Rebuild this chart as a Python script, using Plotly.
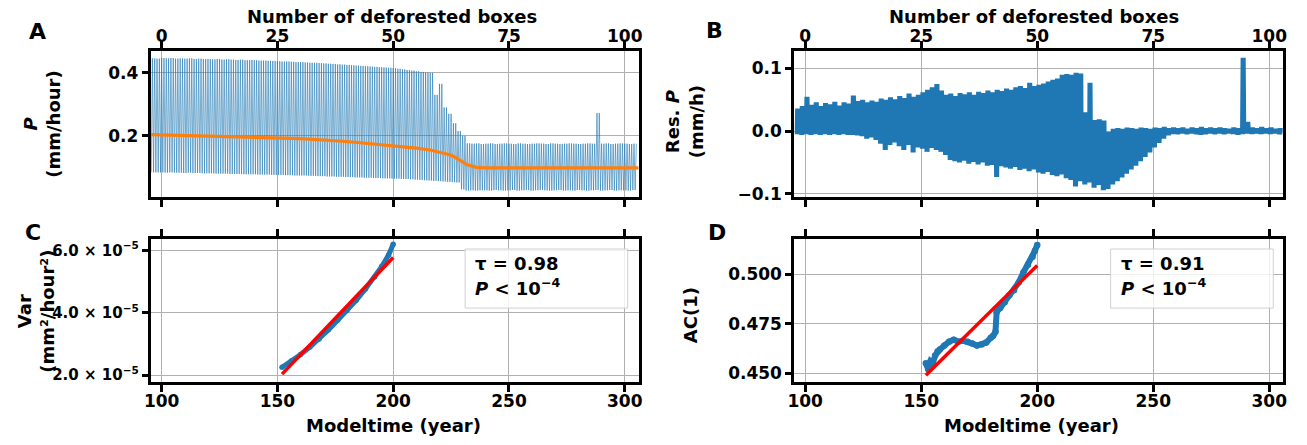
import plotly.graph_objects as go

# ---------------- data ----------------
# Panel A / B: x in "number of deforested boxes" (1 box = 2 model years)
boxes = list(range(-2, 103))

a_upper = [0.446, 0.445,
           0.447, 0.446, 0.447, 0.445, 0.446, 0.445, 0.446, 0.444, 0.445, 0.444,
           0.444, 0.443, 0.444, 0.442, 0.443, 0.442, 0.441, 0.442, 0.440, 0.441,
           0.440, 0.439, 0.439, 0.438, 0.438, 0.437, 0.436, 0.436, 0.435, 0.434,
           0.434, 0.433, 0.432, 0.432, 0.431, 0.430, 0.429, 0.428, 0.427, 0.426,
           0.425, 0.424, 0.423, 0.422, 0.421, 0.420, 0.419, 0.418, 0.417, 0.416,
           0.415, 0.413, 0.411, 0.409, 0.407, 0.405, 0.403, 0.401, 0.400, 0.330,
           0.365, 0.290, 0.270, 0.240, 0.215, 0.200, 0.176, 0.175, 0.176, 0.174,
           0.175, 0.176, 0.174, 0.175, 0.176, 0.175, 0.174, 0.176, 0.175, 0.174,
           0.175, 0.176, 0.175, 0.174, 0.176, 0.175, 0.174, 0.175, 0.176, 0.175,
           0.174, 0.175, 0.176, 0.175, 0.272, 0.175, 0.176, 0.174, 0.175, 0.176,
           0.175, 0.174, 0.175]

a_lower = [0.084, 0.084,
           0.084, 0.083, 0.084, 0.083, 0.083, 0.082, 0.083, 0.082, 0.082, 0.081,
           0.081, 0.081, 0.080, 0.080, 0.080, 0.079, 0.079, 0.079, 0.078, 0.078,
           0.078, 0.077, 0.077, 0.077, 0.076, 0.076, 0.076, 0.075, 0.075, 0.074,
           0.074, 0.074, 0.073, 0.073, 0.072, 0.072, 0.071, 0.071, 0.070, 0.070,
           0.069, 0.069, 0.068, 0.068, 0.067, 0.067, 0.066, 0.066, 0.065, 0.065,
           0.064, 0.064, 0.063, 0.063, 0.062, 0.061, 0.060, 0.059, 0.058, 0.057,
           0.056, 0.055, 0.054, 0.053, 0.052, 0.030, 0.026, 0.027, 0.026, 0.027,
           0.027, 0.026, 0.028, 0.027, 0.026, 0.027, 0.028, 0.026, 0.027, 0.028,
           0.026, 0.027, 0.028, 0.027, 0.026, 0.027, 0.028, 0.026, 0.027, 0.026,
           0.028, 0.027, 0.026, 0.027, 0.028, 0.026, 0.027, 0.028, 0.026, 0.027,
           0.027, 0.026, 0.028]

mean_boxes = [-2.35, 0, 10, 20, 25, 30, 40, 50, 55, 58, 60, 62, 63, 64, 65, 66, 67, 68, 70, 80, 90, 103]
mean_vals = [0.204, 0.203, 0.200, 0.196, 0.194, 0.191, 0.182, 0.169, 0.161, 0.155, 0.149,
             0.141, 0.135, 0.127, 0.117, 0.108, 0.103, 0.100, 0.0985, 0.098, 0.098, 0.098]

b_upper = [0.036, 0.040,
           0.055, 0.042, 0.046, 0.040, 0.045, 0.043, 0.047, 0.041, 0.046, 0.044,
           0.057, 0.048, 0.050, 0.046, 0.049, 0.047, 0.052, 0.050, 0.054, 0.051,
           0.056, 0.053, 0.060, 0.055, 0.058, 0.062, 0.066, 0.070, 0.075, 0.065,
           0.058, 0.060, 0.056, 0.061, 0.059, 0.062, 0.058, 0.063, 0.061, 0.065,
           0.062, 0.066, 0.064, 0.068, 0.066, 0.070, 0.072, 0.069, 0.077, 0.072,
           0.074, 0.076, 0.079, 0.082, 0.084, 0.090, 0.091, 0.090, 0.093, 0.092,
           0.030, 0.077, 0.018, 0.019, 0.017, -0.001, 0.004, 0.005, 0.004, 0.006,
           0.005, 0.004, 0.006, 0.005, 0.004, 0.006, 0.005, 0.007, 0.005, 0.006,
           0.005, 0.006, 0.004, 0.006, 0.005, 0.007, 0.005, 0.006, 0.005, 0.006,
           0.005, 0.004, 0.006, 0.005, 0.117, 0.015, 0.006, 0.005, 0.007, 0.005,
           0.006, 0.004, 0.005]

b_lower = [-0.005, -0.006,
           -0.005, -0.006, -0.005, -0.006, -0.005, -0.006, -0.005, -0.006, -0.005, -0.006,
           -0.006, -0.007, -0.008, -0.012, -0.010, -0.014, -0.020, -0.030, -0.022, -0.018,
           -0.024, -0.030, -0.022, -0.034, -0.026, -0.028, -0.033, -0.027, -0.030, -0.033,
           -0.038, -0.046, -0.048, -0.050, -0.047, -0.052, -0.049, -0.053, -0.050, -0.055,
           -0.054, -0.073, -0.056, -0.058, -0.060, -0.057, -0.062, -0.060, -0.064, -0.061,
           -0.066, -0.068, -0.065, -0.070, -0.072, -0.069, -0.075, -0.078, -0.088, -0.080,
           -0.085, -0.082, -0.090, -0.086, -0.094, -0.092, -0.085, -0.080, -0.074, -0.068,
           -0.061, -0.055, -0.048, -0.041, -0.034, -0.026, -0.019, -0.012, -0.007, -0.005,
           -0.005, -0.004, -0.005, -0.004, -0.005, -0.006, -0.005, -0.004, -0.005, -0.004,
           -0.005, -0.004, -0.005, -0.006, -0.005, -0.004, -0.005, -0.004, -0.005, -0.004,
           -0.005, -0.004, -0.005]

# Panel C: variance (mm^2/hour^2) vs model time (year)
var_years = [152, 156, 160, 164, 168, 172, 176, 180, 184, 188, 192, 195, 198, 200]
var_vals = [2.25e-5, 2.45e-5, 2.66e-5, 2.90e-5, 3.16e-5, 3.45e-5, 3.76e-5, 4.07e-5,
            4.40e-5, 4.76e-5, 5.15e-5, 5.48e-5, 5.85e-5, 6.20e-5]
var_fit_years = [152, 200]
var_fit_vals = [2.03e-5, 5.77e-5]

# Panel D: lag-1 autocorrelation
ac_years = [152, 153, 154, 155, 156, 157, 158, 160, 162, 164, 166, 168, 170, 172, 174,
            176, 178, 180, 181, 182, 182.5, 184, 186, 188, 190, 192, 194, 196, 198, 199, 200]
ac_vals = [0.455, 0.452, 0.456, 0.455, 0.459, 0.461, 0.462, 0.464, 0.466, 0.467, 0.466,
           0.4665, 0.466, 0.465, 0.464, 0.4645, 0.4655, 0.468, 0.469, 0.471, 0.481, 0.483,
           0.486, 0.4895, 0.492, 0.496, 0.501, 0.505, 0.509, 0.512, 0.515]
ac_fit_years = [152, 200]
ac_fit_vals = [0.449, 0.5046]

stats_c = ["τ = 0.98", "10<sup>−4</sup>"]
stats_d = ["τ = 0.91", "10<sup>−4</sup>"]

box_ticks = [0, 25, 50, 75, 100]
year_ticks = [100, 150, 200, 250, 300]

# ---------------- helpers ----------------
W, H = 1307, 445
def fx(p):
    return p / W
def fy(p):
    return 1 - p / H

def zigzag(xs, hi, lo, cycles):
    X, Y = [], []
    step = 1.0 / cycles
    for b, h, l in zip(xs, hi, lo):
        for k in range(cycles):
            X += [b + k * step - step / 2, b + k * step]
            Y += [l, h]
    return X, Y

BLUE = '#1f77b4'
FONT = 'DejaVu Sans'
TF = dict(family=FONT, size=17, color='black', weight='bold')

fig = go.Figure()

xa, ya = zigzag(boxes, a_upper, a_lower, 2)
fig.add_trace(go.Scatter(x=xa, y=ya, mode='lines', line=dict(color=BLUE, width=0.6),
                         xaxis='x', yaxis='y', hoverinfo='skip'))
fig.add_trace(go.Scatter(x=mean_boxes, y=mean_vals, mode='lines',
                         line=dict(color='#ff7f0e', width=3.2), xaxis='x', yaxis='y'))

xb, yb = zigzag(boxes, b_upper, b_lower, 4)
fig.add_trace(go.Scatter(x=xb, y=yb, mode='lines', line=dict(color=BLUE, width=1.6),
                         xaxis='x2', yaxis='y2', hoverinfo='skip'))

fig.add_trace(go.Scatter(x=var_years, y=var_vals, mode='lines+markers',
                         line=dict(color=BLUE, width=5), marker=dict(size=5.5, color=BLUE),
                         xaxis='x3', yaxis='y3'))
fig.add_trace(go.Scatter(x=var_fit_years, y=var_fit_vals, mode='lines',
                         line=dict(color='#ff0000', width=3.5), xaxis='x3', yaxis='y3'))

fig.add_trace(go.Scatter(x=ac_years, y=ac_vals, mode='lines+markers',
                         line=dict(color=BLUE, width=6), marker=dict(size=6.5, color=BLUE),
                         xaxis='x4', yaxis='y4'))
fig.add_trace(go.Scatter(x=ac_fit_years, y=ac_fit_vals, mode='lines',
                         line=dict(color='#ff0000', width=3.5), xaxis='x4', yaxis='y4'))

def axstyle(**kw):
    d = dict(showline=True, linecolor='black', linewidth=3, ticks='outside', ticklen=7,
             tickwidth=2.5, tickcolor='black', showgrid=True, gridcolor='#b0b0b0',
             gridwidth=1, zeroline=False, tickfont=TF)
    d.update(kw)
    return d

XL, XR = 145, 637
XL2, XR2 = 794, 1287
YT1, YB1 = 52, 200
YT2, YB2 = 243, 388

fig.update_layout(
    width=W, height=H, margin=dict(l=0, r=0, t=0, b=0),
    paper_bgcolor='white', plot_bgcolor='white', showlegend=False,
    xaxis=axstyle(domain=[fx(XL), fx(XR)], anchor='y', side='top', mirror='ticks',
                  range=[-2.35, 103.0], tickvals=box_ticks, ticklabelstandoff=-8),
    yaxis=axstyle(domain=[fy(YB1), fy(YT1)], anchor='x', mirror=True, ticklen=6,
                  range=[0.00625, 0.46875], tickvals=[0.2, 0.4], ticktext=['0.2', '0.4']),
    xaxis2=axstyle(domain=[fx(XL2), fx(XR2)], anchor='y2', side='top', mirror='ticks',
                   range=[-2.35, 103.0], tickvals=box_ticks, ticklabelstandoff=-8),
    yaxis2=axstyle(domain=[fy(YB1), fy(YT1)], anchor='x2', mirror=True, ticklen=6,
                   range=[-0.1047, 0.1275], tickvals=[-0.1, 0.0, 0.1],
                   ticktext=['−0.1', '0.0', '0.1']),
    xaxis3=axstyle(domain=[fx(XL), fx(XR)], anchor='y3', side='bottom', mirror='ticks',
                   range=[95.3, 306.0], tickvals=year_ticks, ticklabelstandoff=-5),
    yaxis3=axstyle(domain=[fy(YB2), fy(YT2)], anchor='x3', mirror=True, ticklen=6,
                   range=[1.78e-5, 6.36e-5], tickvals=[2e-5, 4e-5, 6e-5],
                   ticktext=['2.0 × 10<sup>−5</sup>', '4.0 × 10<sup>−5</sup>', '6.0 × 10<sup>−5</sup>'],
                   tickfont=dict(family=FONT, size=15, color='black', weight='bold')),
    xaxis4=axstyle(domain=[fx(XL2), fx(XR2)], anchor='y4', side='bottom', mirror='ticks',
                   range=[95.3, 306.0], tickvals=year_ticks, ticklabelstandoff=-5),
    yaxis4=axstyle(domain=[fy(YB2), fy(YT2)], anchor='x4', mirror=True, ticklen=6,
                   range=[0.4456, 0.5179], tickvals=[0.45, 0.475, 0.5],
                   ticktext=['0.450', '0.475', '0.500']),
)

ann = []
def label(text, x, y, size=18, angle=0, xanchor='center'):
    ann.append(dict(text=text, x=fx(x), y=fy(y), xref='paper', yref='paper',
                    showarrow=False, xanchor=xanchor, yanchor='middle', textangle=angle,
                    font=dict(family=FONT, size=size, color='black', weight='bold')))

# panel letters
label('A', 31, 32, size=22)
label('B', 714, 31, size=22)
label('C', 26, 236, size=22)
label('D', 716, 236, size=22)
# axis titles
label('Number of deforested boxes', 388, 17)
label('Number of deforested boxes', 1036, 17)
label('Modeltime (year)', 390, 432)
label('Modeltime (year)', 1033, 432)
label('<i>P</i><br>(mm/hour)', 35, 126, angle=-90)
label('Res. <i>P</i><br>(mm/h)', 683, 124, angle=-90)
label('Var<br>(mm²/hour²)', 29, 316, angle=-90)
label('AC(1)', 690, 320, angle=-90)

# stats boxes
shapes = []
for (x0, x1), st in (((462, 626), stats_c), ((1113, 1277), stats_d)):
    shapes.append(dict(type='rect', xref='paper', yref='paper', x0=fx(x0), x1=fx(x1),
                       y0=fy(313), y1=fy(253), line=dict(color='#d0d0d0', width=1),
                       fillcolor='rgba(255,255,255,0.8)', layer='above'))
    label(st[0], x0 + 8, 268, xanchor='left')
    label('<i>P</i> &lt; ' + st[1], x0 + 8, 292, xanchor='left')

fig.update_layout(annotations=ann, shapes=shapes)
fig.write_html('out.html')
